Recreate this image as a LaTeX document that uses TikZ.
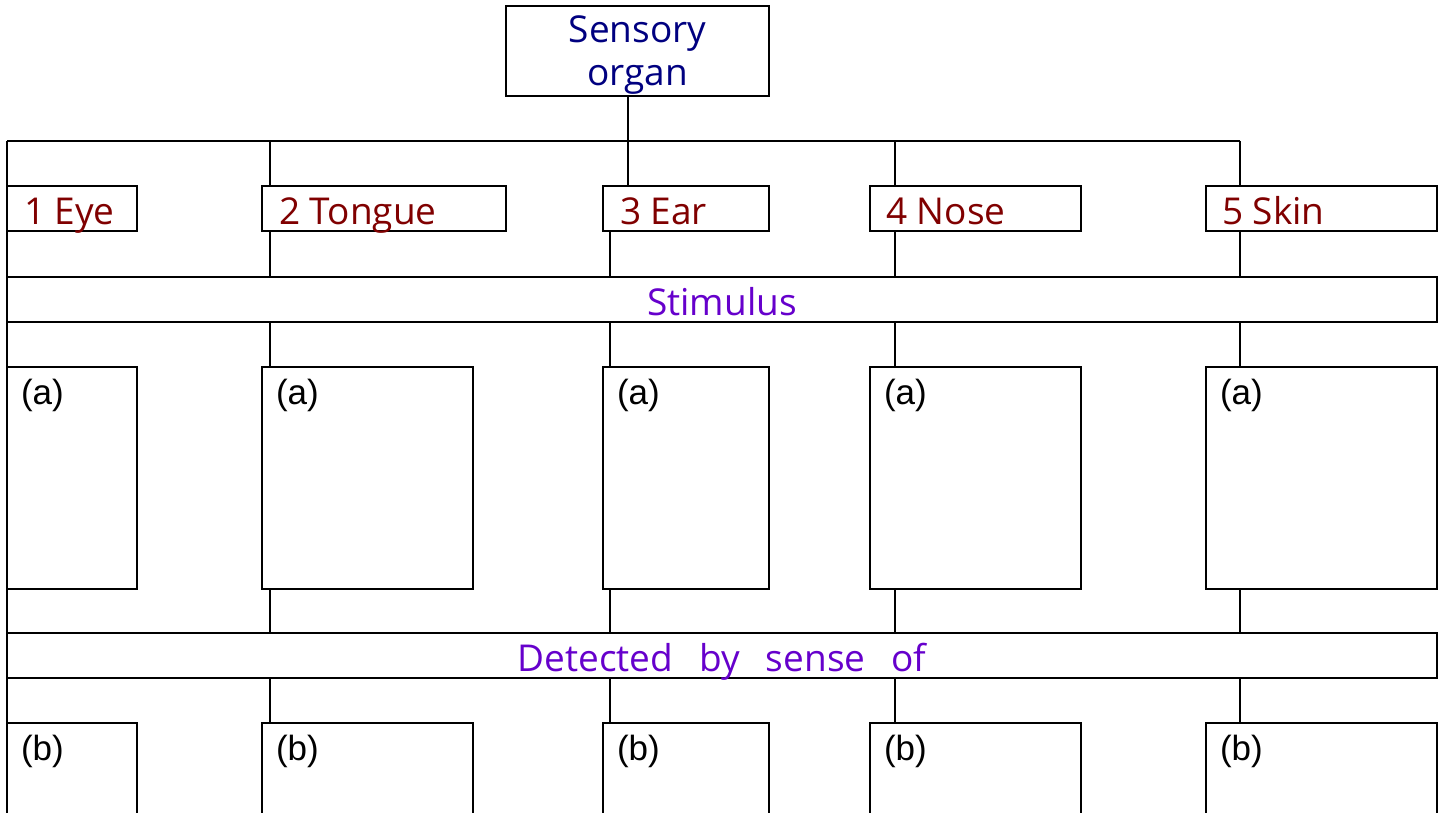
\documentclass[tikz,border=0pt]{standalone}
\usepackage{fontspec}
\setmainfont{Open Sans}
\newfontfamily\labfont{Liberation Sans}
\definecolor{navyc}{RGB}{0,0,128}
\definecolor{maroonc}{RGB}{128,0,0}
\definecolor{purplec}{RGB}{102,0,204}
\begin{document}
\begin{tikzpicture}[x=1pt,y=-1pt,line width=2pt,
  box/.style={draw,line width=2pt,inner sep=0pt,outer sep=0pt,anchor=north west},
  organtxt/.style={text=maroonc,font=\fontsize{37}{43}\selectfont,anchor=base west,inner sep=0pt},
  bartxt/.style={text=purplec,font=\fontsize{37}{43}\selectfont,anchor=base,inner sep=0pt},
  abtxt/.style={text=black,font=\labfont\fontsize{35}{40}\selectfont,anchor=base west,inner sep=0pt}]
\useasboundingbox (0,0) rectangle (1445,813);
\clip (0,0) rectangle (1445,813);
\fill[white] (0,0) rectangle (1445,813);

% top box
\node[box,minimum width=263pt,minimum height=90pt] (sens) at (506,6) {};
\node[text=navyc,font=\fontsize{37}{43}\selectfont,align=center,inner sep=0pt,anchor=base] (senstxt) at (637.5,86) {Sensory\\organ};

% row 1
\node[box,minimum width=130pt,minimum height=45pt] (e1) at (7,186) {};
\node[box,minimum width=244pt,minimum height=45pt] (t1) at (262,186) {};
\node[box,minimum width=166pt,minimum height=45pt] (r1) at (603,186) {};
\node[box,minimum width=211pt,minimum height=45pt] (n1) at (870,186) {};
\node[box,minimum width=231pt,minimum height=45pt] (s1) at (1206,186) {};
\node[organtxt] (e1t) at (23,224) {1 Eye};
\node[organtxt] (t1t) at (278,224) {2 Tongue};
\node[organtxt] (r1t) at (619,224) {3 Ear};
\node[organtxt] (n1t) at (885,224) {4 Nose};
\node[organtxt] (s1t) at (1221,224) {5 Skin};

% bars
\node[box,minimum width=1430pt,minimum height=45pt] (stim) at (7,277) {};
\node[bartxt] (stimt) at (722,315) {Stimulus};
\node[box,minimum width=1430pt,minimum height=45pt] (det) at (7,633) {};
\node[bartxt] (dett) at (722,671) {Detected\hspace{26pt}by\hspace{26pt}sense\hspace{26pt}of};

% row a
\node[box,minimum width=130pt,minimum height=222pt] (ea) at (7,367) {};
\node[box,minimum width=211pt,minimum height=222pt] (ta) at (262,367) {};
\node[box,minimum width=166pt,minimum height=222pt] (ra) at (603,367) {};
\node[box,minimum width=211pt,minimum height=222pt] (na) at (870,367) {};
\node[box,minimum width=231pt,minimum height=222pt] (sa) at (1206,367) {};
\foreach \n/\x in {ea/7,ta/262,ra/603,na/870,sa/1206}
  \node[abtxt] (\n t) at (\x+13,404) {(a)};

% row b
\node[box,minimum width=130pt,minimum height=130pt] (eb) at (7,723) {};
\node[box,minimum width=211pt,minimum height=130pt] (tb) at (262,723) {};
\node[box,minimum width=166pt,minimum height=130pt] (rb) at (603,723) {};
\node[box,minimum width=211pt,minimum height=130pt] (nb) at (870,723) {};
\node[box,minimum width=231pt,minimum height=130pt] (sb) at (1206,723) {};
\foreach \n/\x in {eb/7,tb/262,rb/603,nb/870,sb/1206}
  \node[abtxt] (\n t) at (\x+13,760) {(b)};

% connectors
\coordinate (busL) at (7,141);
\coordinate (busR) at (1240,141);
\coordinate (busC) at (628,141);
\coordinate (botL) at (7,813);
\coordinate (xT) at (270,0);
\coordinate (xE) at (610,0);
\coordinate (xN) at (895,0);
\coordinate (xS) at (1240,0);
\draw (busL) -- (busR);
\draw (busL) -- (botL);
\draw (busC |- sens.south) -- (busC) -- (busC |- r1.north);
\draw (xT |- busL) -- (xT |- t1.north);
\draw (xN |- busL) -- (xN |- n1.north);
\draw (busR) -- (xS |- s1.north);
\foreach \c/\n in {xT/t,xE/r,xN/n,xS/s}{
  \draw (\c |- \n1.south) -- (\c |- stim.north);
  \draw (\c |- stim.south) -- (\c |- \n a.north);
  \draw (\c |- \n a.south) -- (\c |- det.north);
  \draw (\c |- det.south) -- (\c |- \n b.north);
}
\end{tikzpicture}
\end{document}
